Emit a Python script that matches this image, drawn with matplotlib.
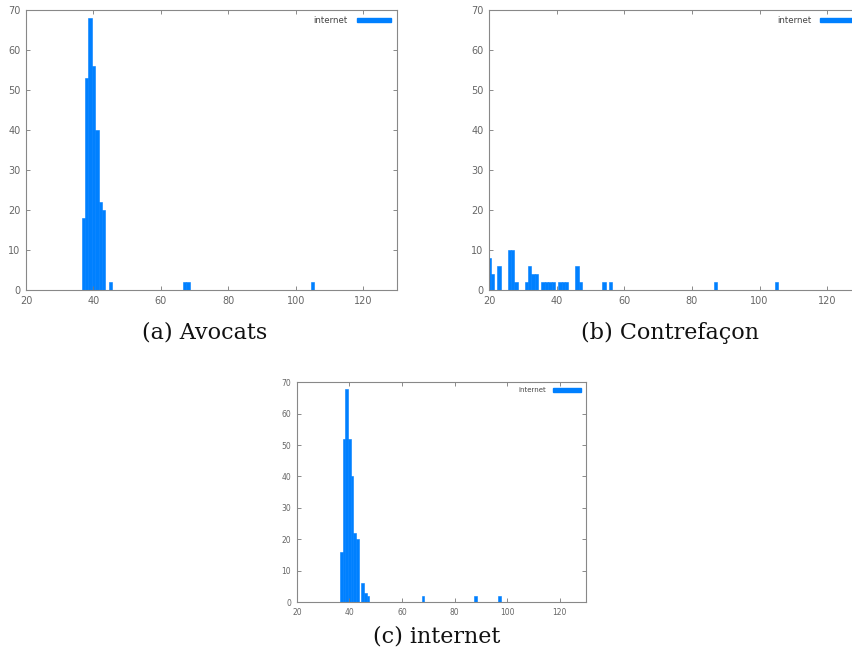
import matplotlib
matplotlib.use("Agg")
import matplotlib.pyplot as plt
from matplotlib.patches import Rectangle

# Data: bin centre -> count
avocats_x = [37, 38, 39, 40, 41, 42, 43, 45, 67, 68, 105]
avocats_y = [18, 53, 68, 56, 40, 22, 20, 2, 2, 2, 2]

contrefacon_x = [20, 21, 23, 26, 27, 28, 31, 32, 33, 34, 36, 37, 38, 39, 41, 42, 43, 46, 47, 54, 56, 87, 105]
contrefacon_y = [8, 4, 6, 10, 10, 2, 2, 6, 4, 4, 2, 2, 2, 2, 2, 2, 2, 6, 2, 2, 2, 2, 2]

internet_x = [37, 38, 39, 40, 41, 42, 43, 45, 46, 47, 68, 88, 97]
internet_y = [16, 52, 68, 52, 40, 22, 20, 6, 3, 2, 2, 2, 2]

captions = ["(a) Avocats", "(b) Contrefaçon", "(c) internet"]
legend_label = "internet"
x_ticks = [20, 40, 60, 80, 100, 120]
y_ticks = [0, 10, 20, 30, 40, 50, 60, 70]

BLUE = "#0080ff"
GRAY = "#666666"

fig = plt.figure(figsize=(8.53, 6.54), dpi=100)

def panel(rect, xs, ys, fs, lfs):
    ax = fig.add_axes(rect)
    ax.bar(xs, ys, width=1.0, color=BLUE, edgecolor=BLUE, linewidth=0.4, align="center")
    ax.set_xlim(20, 130)
    ax.set_ylim(0, 70)
    ax.set_xticks(x_ticks)
    ax.set_yticks(y_ticks)
    ax.tick_params(direction="in", top=True, right=True, length=3, width=0.6,
                   colors="#777777", labelsize=fs, labelcolor=GRAY, pad=4)
    for s in ax.spines.values():
        s.set_color("#888888")
        s.set_linewidth(0.8)
    h = Rectangle((0, 0), 1, 1, facecolor=BLUE, edgecolor=BLUE)
    leg = ax.legend([h], [legend_label], loc="upper right", frameon=False,
                    markerfirst=False, fontsize=lfs, handlelength=4.0, handleheight=0.5,
                    borderaxespad=0.3, handletextpad=1.0)
    for t in leg.get_texts():
        t.set_color("#444444")
    return ax

ax_a = panel([0.0305, 0.5566, 0.435, 0.428], avocats_x, avocats_y, 7, 6.2)
ax_b = panel([0.5733, 0.5566, 0.436, 0.428], contrefacon_x, contrefacon_y, 7, 6.2)
ax_c = panel([0.348, 0.0795, 0.339, 0.336], internet_x, internet_y, 5.5, 5)

cap_font = dict(family="DejaVu Serif", fontsize=16, ha="center", va="center", color="#111111")
fig.text(205 / 853, 1 - 333 / 654, captions[0], **cap_font)
fig.text(670 / 853, 1 - 333 / 654, captions[1], **cap_font)
fig.text(437 / 853, 1 - 637 / 654, captions[2], **cap_font)

fig.savefig("out.png", dpi=100)
